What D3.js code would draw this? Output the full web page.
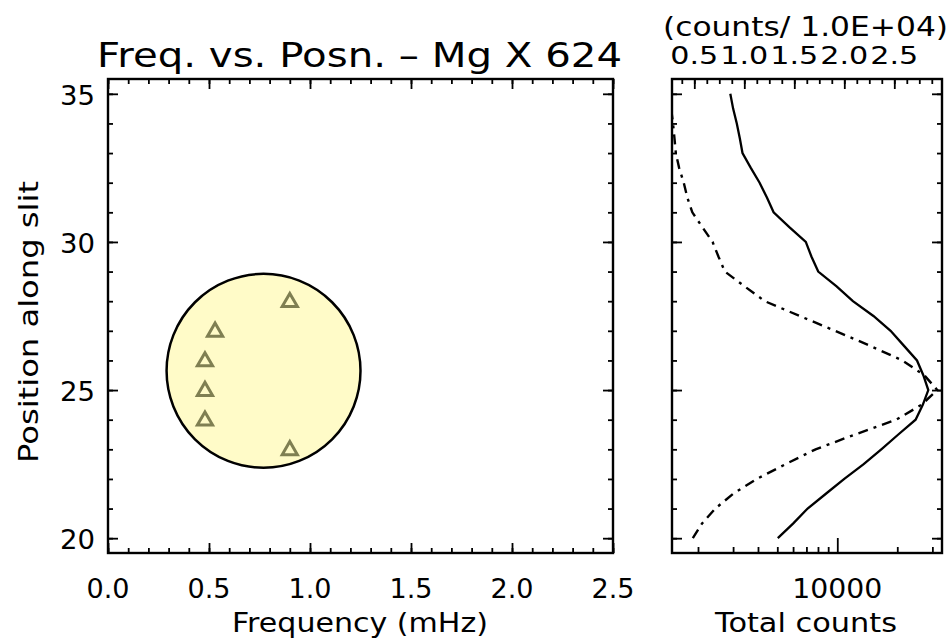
<!DOCTYPE html>
<html><head><meta charset="utf-8">
<script src="https://cdn.jsdelivr.net/npm/d3@7"></script>
<style>
body{margin:0;background:#fff;}
text{font-family:"DejaVu Sans",sans-serif;fill:#000;}
</style>
</head><body>
<svg id="c" width="952" height="639"></svg>
<script>
// ---------- data ----------
const freq = [0.90, 0.53, 0.48, 0.48, 0.48, 0.90];
const posn = [28, 27, 26, 25, 24, 23];
const circleCenter = [0.77, 25.65];   // mHz, position
const circleRadius = 0.48;            // mHz
const slitPos = [20,20.5,21,21.5,22,22.5,23,23.5,24,24.5,25,25.5,26,26.5,27,27.5,28,28.5,29,29.5,30,30.5,31,31.5,32,32.5,33,33.5,34,34.5,35];
const countsSolid = [5029,6015,7097,8766,10842,13565,16628,20237,24714,26853,28622,27016,25114,21566,18514,15181,11977,9920,8023,7424,6950,5744,4791,4435,4075,3681,3344,3242,3131,3001,2905];
const countsDashDot = [1884,2097,2443,3001,3946,5503,7783,12270,19770,26400,31760,27330,21190,14530,9750,6475,4328,3427,2729,2535,2367,2102,1873,1768,1696,1608,1548,1524,1498,1466,1419];
const freqTicks = [0.0,0.5,1.0,1.5,2.0,2.5];
const posTicks = [20,25,30,35];
const countTicks = [10000];
const scaledTicks = [0.5,1.0,1.5,2.0,2.5];
const titleText = "Freq. vs. Posn. \u2013 Mg X 624";
const topUnitText = "(counts/ 1.0E+04)";

// ---------- layout ----------
const svg = d3.select("#c");
const T = 79, B = 553;
const L = {x0:108, x1:613};
const R = {x0:672, x1:942};

const y = d3.scaleLinear().domain([19.5,35.5]).range([B,T]);
const x = d3.scaleLinear().domain([0,2.5]).range([L.x0,L.x1]);
const xc = d3.scaleLog().domain([1481,33530]).range([R.x0,R.x1]);
const xt = d3.scaleLinear().domain([0.277,2.977]).range([R.x0,R.x1]);

function rng(a,b,s){const r=[];for(let v=a;v<=b+1e-9;v+=s)r.push(+v.toFixed(4));return r;}

function tickAxis(axisFn, scale, vals, size, transform){
  const g = svg.append("g").attr("transform",transform)
    .call(axisFn(scale).tickValues(vals).tickSize(size).tickFormat(""));
  g.select(".domain").remove();
  g.selectAll(".tick line").attr("stroke","#000").attr("stroke-width",1.8);
  return g;
}
function label(sel, size, len){
  return sel.attr("font-size",size).attr("textLength",len).attr("lengthAdjust","spacingAndGlyphs");
}

// ---- left panel ----
const minorF = rng(0,2.5,0.1), minorP = rng(20,35,1);
tickAxis(d3.axisBottom, x, minorF, -5, `translate(0,${B})`);
tickAxis(d3.axisBottom, x, freqTicks, -10, `translate(0,${B})`);
tickAxis(d3.axisTop, x, minorF, -5, `translate(0,${T})`);
tickAxis(d3.axisTop, x, freqTicks, -10, `translate(0,${T})`);
tickAxis(d3.axisLeft, y, minorP, -5, `translate(${L.x0},0)`);
tickAxis(d3.axisLeft, y, posTicks, -10, `translate(${L.x0},0)`);
tickAxis(d3.axisRight, y, minorP, -5, `translate(${L.x1},0)`);
tickAxis(d3.axisRight, y, posTicks, -10, `translate(${L.x1},0)`);

svg.append("rect").attr("x",L.x0).attr("y",T).attr("width",L.x1-L.x0).attr("height",B-T)
  .attr("fill","none").attr("stroke","#000").attr("stroke-width",2.4);

// circle
svg.append("circle")
  .attr("cx",x(circleCenter[0])).attr("cy",y(circleCenter[1]))
  .attr("r",x(circleRadius)-x(0))
  .attr("fill","#fffbc8").attr("stroke","#000").attr("stroke-width",2.5);

// triangles
const tri = d3.symbol().type(d3.symbolTriangle).size(100);
svg.selectAll("path.tri").data(freq.map((f,i)=>({f,p:posn[i]}))).enter()
  .append("path").attr("class","tri").attr("d",tri)
  .attr("transform",d=>`translate(${x(d.f)},${y(d.p)+1})`)
  .attr("fill","none").attr("stroke","#7f7f52").attr("stroke-width",3);

// labels
label(svg.selectAll("text.xl").data(freqTicks).enter().append("text")
  .attr("x",d=>x(d)).attr("y",598).attr("text-anchor","middle"),27,43)
  .text(d=>d.toFixed(1));
label(svg.selectAll("text.yl").data(posTicks).enter().append("text")
  .attr("x",95).attr("y",d=>y(d)+11).attr("text-anchor","end"),27,35)
  .text(d=>d);
label(svg.append("text").attr("x",360).attr("y",632).attr("text-anchor","middle"),26,256)
  .text("Frequency (mHz)");
label(svg.append("text").attr("transform","translate(38,322) rotate(-90)").attr("text-anchor","middle"),26,282)
  .text("Position along slit");
label(svg.append("text").attr("x",97).attr("y",67),33,525)
  .text(titleText);

// ---- right panel ----
const minorC = [2000,3000,4000,5000,6000,7000,8000,9000,20000,30000];
tickAxis(d3.axisBottom, xc, minorC, -6, `translate(0,${B})`);
tickAxis(d3.axisBottom, xc, countTicks, -15, `translate(0,${B})`);
const minorT = rng(0.375,2.875,0.125);
tickAxis(d3.axisTop, xt, minorT, -5, `translate(0,${T})`);
tickAxis(d3.axisTop, xt, scaledTicks, -10, `translate(0,${T})`);
tickAxis(d3.axisLeft, y, minorP, -5, `translate(${R.x0},0)`);
tickAxis(d3.axisLeft, y, posTicks, -10, `translate(${R.x0},0)`);
tickAxis(d3.axisRight, y, minorP, -5, `translate(${R.x1},0)`);
tickAxis(d3.axisRight, y, posTicks, -10, `translate(${R.x1},0)`);

svg.append("clipPath").attr("id","rc").append("rect")
  .attr("x",R.x0).attr("y",T).attr("width",R.x1-R.x0).attr("height",B-T);

const line = d3.line().x(d=>xc(d.c)).y(d=>y(d.p));
svg.append("path").datum(slitPos.map((p,i)=>({p,c:countsSolid[i]})))
  .attr("d",line).attr("fill","none").attr("stroke","#000").attr("stroke-width",2.3)
  .attr("clip-path","url(#rc)");
svg.append("path").datum(slitPos.map((p,i)=>({p,c:countsDashDot[i]})))
  .attr("d",line).attr("fill","none").attr("stroke","#000").attr("stroke-width",2.4)
  .attr("stroke-dasharray","10,6,3,6")
  .attr("clip-path","url(#rc)");

svg.append("rect").attr("x",R.x0).attr("y",T).attr("width",R.x1-R.x0).attr("height",B-T)
  .attr("fill","none").attr("stroke","#000").attr("stroke-width",2.4);

label(svg.selectAll("text.cl").data(countTicks).enter().append("text")
  .attr("x",d=>xc(d)).attr("y",598).attr("text-anchor","middle"),27,90)
  .text(d=>d);
label(svg.append("text").attr("x",806).attr("y",632).attr("text-anchor","middle"),26,182)
  .text("Total counts");
label(svg.selectAll("text.tl").data(scaledTicks).enter().append("text")
  .attr("x",d=>xt(d)).attr("y",64).attr("text-anchor","middle"),25,48)
  .text(d=>d.toFixed(1));
label(svg.append("text").attr("x",663).attr("y",36),26,285)
  .text(topUnitText);
</script>
</body></html>
